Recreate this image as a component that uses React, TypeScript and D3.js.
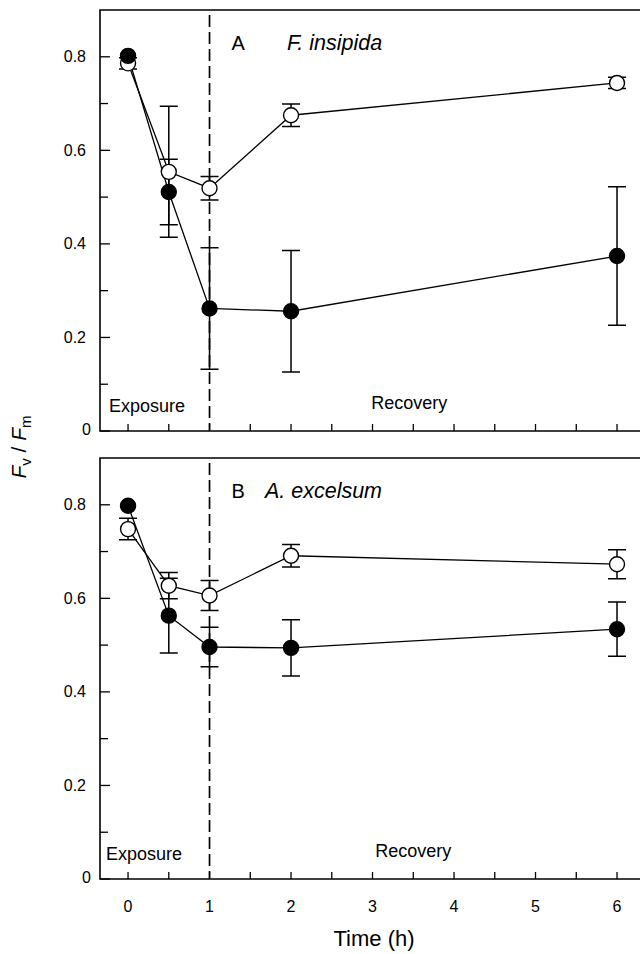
import React, { useRef, useEffect } from "react";
import * as d3 from "d3";

// sampling times (h)
const timesH = [0, 0.5, 1, 2, 6];

// panel A, F. insipida
const insipidaOpen = [0.786, 0.554, 0.519, 0.675, 0.744];
const insipidaOpenErr = [0.012, 0.14, 0.025, 0.024, 0.012];
const insipidaFilled = [0.802, 0.511, 0.262, 0.256, 0.374];
const insipidaFilledErr = [0, 0.07, 0.13, 0.13, 0.148];

// panel B, A. excelsum
const excelsumOpen = [0.748, 0.627, 0.606, 0.691, 0.673];
const excelsumOpenErr = [0.023, 0.028, 0.032, 0.024, 0.031];
const excelsumFilled = [0.798, 0.563, 0.496, 0.494, 0.534];
const excelsumFilledErr = [0, 0.08, 0.042, 0.06, 0.058];

const yTickLabels = [0, 0.2, 0.4, 0.6, 0.8];
const xTickLabels = [0, 1, 2, 3, 4, 5, 6];

const FONT = "'Liberation Sans', Arial, Helvetica, sans-serif";

const panels = [
  {
    letter: "A",
    species: "F. insipida",
    speciesAt: 1.95,
    top: 10,
    bottom: 431,
    exposureX: 109,
    recoveryAt: 3.45,
    open: insipidaOpen,
    openErr: insipidaOpenErr,
    filled: insipidaFilled,
    filledErr: insipidaFilledErr,
    showX: false,
  },
  {
    letter: "B",
    species: "A. excelsum",
    speciesAt: 1.68,
    top: 458,
    bottom: 879,
    exposureX: 106,
    recoveryAt: 3.5,
    open: excelsumOpen,
    openErr: excelsumOpenErr,
    filled: excelsumFilled,
    filledErr: excelsumFilledErr,
    showX: true,
  },
];

const App = () => {
  const svgRef = useRef<SVGSVGElement>(null);

  useEffect(() => {
    const svg = d3.select(svgRef.current);
    svg.selectAll("*").remove();

    const width = 640;
    const left = 100;

    const x = d3.scaleLinear().domain([-0.344, 6.282]).range([left, width]);

    panels.forEach((p) => {
      const y = d3.scaleLinear().domain([0, 0.9]).range([p.bottom, p.top]);
      const g = svg.append("g");

      // frame: left, top, bottom
      g.append("path")
        .attr("d", `M${width},${p.top}H${left}V${p.bottom}H${width}`)
        .attr("fill", "none")
        .attr("stroke", "#000")
        .attr("stroke-width", 1.6);

      // y ticks (inward)
      d3.range(0, 0.85, 0.1).forEach((v, i) => {
        g.append("line")
          .attr("x1", left)
          .attr("x2", left + (i % 2 === 0 ? 10 : 8))
          .attr("y1", y(v))
          .attr("y2", y(v))
          .attr("stroke", "#000")
          .attr("stroke-width", 1.3);
      });
      yTickLabels.forEach((v) => {
        g.append("text")
          .attr("x", v === 0 ? 91 : 86)
          .attr("y", y(v) + (v === 0 ? -2 : 0))
          .attr("text-anchor", "end")
          .attr("dominant-baseline", "central")
          .attr("font-family", FONT)
          .attr("font-size", 16)
          .text(v === 0 ? "0" : d3.format(".1f")(v));
      });

      // x ticks (inward)
      d3.range(0, 6.01, 0.5).forEach((t) => {
        g.append("line")
          .attr("x1", x(t))
          .attr("x2", x(t))
          .attr("y1", p.bottom)
          .attr("y2", p.bottom - 7)
          .attr("stroke", "#000")
          .attr("stroke-width", 1.3);
      });
      if (p.showX) {
        xTickLabels.forEach((t) => {
          g.append("text")
            .attr("x", x(t))
            .attr("y", 912)
            .attr("text-anchor", "middle")
            .attr("font-family", FONT)
            .attr("font-size", 16)
            .text(String(t));
        });
      }

      // exposure / recovery divider
      g.append("line")
        .attr("x1", x(1))
        .attr("x2", x(1))
        .attr("y1", p.top + 5)
        .attr("y2", p.bottom)
        .attr("stroke", "#000")
        .attr("stroke-width", 1.7)
        .attr("stroke-dasharray", "12,5");

      g.append("text")
        .attr("x", p.exposureX)
        .attr("y", p.bottom - 19)
        .attr("font-family", FONT)
        .attr("font-size", 18)
        .text("Exposure");
      g.append("text")
        .attr("x", x(p.recoveryAt))
        .attr("y", p.bottom - 22)
        .attr("text-anchor", "middle")
        .attr("font-family", FONT)
        .attr("font-size", 18)
        .text("Recovery");

      g.append("text")
        .attr("x", x(1.27))
        .attr("y", p.top + 40)
        .attr("font-family", FONT)
        .attr("font-size", 20)
        .text(p.letter);
      g.append("text")
        .attr("x", x(p.speciesAt))
        .attr("y", p.top + 40)
        .attr("font-family", FONT)
        .attr("font-size", 21.5)
        .attr("font-style", "italic")
        .text(p.species);

      const line = d3
        .line<number>()
        .x((d, i) => x(timesH[i]))
        .y((d) => y(d));

      const series = [
        { values: p.open, err: p.openErr, fill: "#fff" },
        { values: p.filled, err: p.filledErr, fill: "#000" },
      ];

      series.forEach((s) => {
        g.append("path")
          .datum(s.values)
          .attr("fill", "none")
          .attr("stroke", "#000")
          .attr("stroke-width", 1.3)
          .attr("d", line);
      });

      series.forEach((s) => {
        s.values.forEach((v, i) => {
          const e = s.err[i];
          if (e <= 0) return;
          const cx = x(timesH[i]);
          g.append("path")
            .attr(
              "d",
              `M${cx},${y(v + e)}V${y(v - e)}M${cx - 9},${y(v + e)}H${cx + 9}M${cx - 9},${y(v - e)}H${cx + 9}`
            )
            .attr("fill", "none")
            .attr("stroke", "#000")
            .attr("stroke-width", 1.5);
        });
      });

      series.forEach((s) => {
        g.selectAll(null)
          .data(s.values)
          .enter()
          .append("circle")
          .attr("cx", (d, i) => x(timesH[i]))
          .attr("cy", (d) => y(d))
          .attr("r", 7.5)
          .attr("fill", s.fill)
          .attr("stroke", "#000")
          .attr("stroke-width", 1.4);
      });
    });

    // shared axis titles
    const yl = svg
      .append("text")
      .attr("transform", "translate(26,447) rotate(-90)")
      .attr("text-anchor", "middle")
      .attr("font-family", FONT)
      .attr("font-size", 21);
    yl.append("tspan").attr("font-style", "italic").text("F");
    yl.append("tspan").attr("font-size", 15).attr("dy", 5).text("v");
    yl.append("tspan").attr("dy", -5).text(" / ");
    yl.append("tspan").attr("font-style", "italic").text("F");
    yl.append("tspan").attr("font-size", 15).attr("dy", 5).text("m");

    svg
      .append("text")
      .attr("x", 374)
      .attr("y", 946)
      .attr("text-anchor", "middle")
      .attr("font-family", FONT)
      .attr("font-size", 22)
      .text("Time (h)");
  }, []);

  return (
    <div style={{ position: "absolute", left: 0, top: 0 }}>
      <svg ref={svgRef} width={640} height={954} style={{ display: "block", background: "#fff" }}></svg>
    </div>
  );
};

export default App;
